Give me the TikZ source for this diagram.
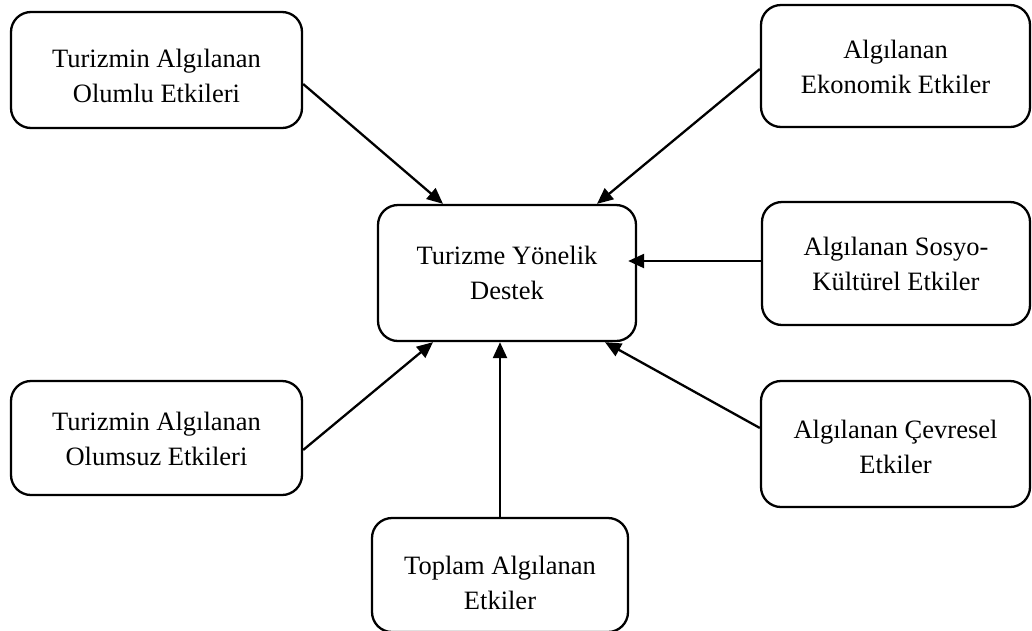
\documentclass[tikz,border=0pt]{standalone}
\usepackage{fontspec}
\setmainfont{Liberation Serif}
\usetikzlibrary{arrows.meta}
\begin{document}
\begin{tikzpicture}[x=1pt,y=1pt,
  box/.style={draw, line width=2.3pt, rounded corners=20pt, inner sep=0pt},
  label text/.style={align=center, inner sep=0pt,
    font=\fontsize{26.5}{35}\selectfont},
  link/.style={line width=2.3pt, -{Triangle[length=16pt,width=14pt]}}]
\useasboundingbox (0,0) rectangle (1032,-630);

% central construct
\node[box, minimum width=258pt, minimum height=136pt] (destek) at (507,-273) {};
\node[label text] (destek-t) at (destek.center) {Turizme Yönelik\\Destek};

% surrounding constructs
\node[box, minimum width=291pt, minimum height=116pt] (olumlu) at (156.5,-70) {};
\node[label text] (olumlu-t) at ([yshift=-6pt]olumlu.center)
  {Turizmin Algılanan\\Olumlu Etkileri};
\node[box, minimum width=269pt, minimum height=122pt] (ekonomik) at (895.5,-66) {};
\node[label text] (ekonomik-t) at ([yshift=-1pt]ekonomik.center)
  {Algılanan\\Ekonomik Etkiler};
\node[box, minimum width=268pt, minimum height=123pt] (sosyo) at (896,-263.5) {};
\node[label text] (sosyo-t) at (sosyo.center) {Algılanan Sosyo-\\Kültürel Etkiler};
\node[box, minimum width=291pt, minimum height=114pt] (olumsuz) at (156.5,-438) {};
\node[label text] (olumsuz-t) at ([yshift=-1pt]olumsuz.center)
  {Turizmin Algılanan\\Olumsuz Etkileri};
\node[box, minimum width=269pt, minimum height=126pt] (cevresel) at (895.5,-444) {};
\node[label text] (cevresel-t) at ([yshift=-3pt]cevresel.center)
  {Algılanan Çevresel\\Etkiler};
\node[box, minimum width=256pt, minimum height=114pt] (toplam) at (500,-575) {};
\node[label text] (toplam-t) at ([yshift=-8pt]toplam.center)
  {Toplam Algılanan\\Etkiler};

% paths into the central construct
\draw[link] ([yshift=-14pt]olumlu.east) -- ([xshift=-64pt]destek.north);
\draw[link] ([yshift=-3pt]ekonomik.west) -- ([xshift=90pt]destek.north);
\draw[link] ([yshift=2.5pt]sosyo.west) -- ([xshift=-9pt,yshift=12pt]destek.east);
\draw[link] ([yshift=-12pt]olumsuz.east) -- ([xshift=-74pt]destek.south);
\draw[link] (toplam.north) -- (toplam.north |- destek.south);
\draw[link] ([yshift=16pt]cevresel.west) -- ([xshift=98pt]destek.south);
\end{tikzpicture}
\end{document}
